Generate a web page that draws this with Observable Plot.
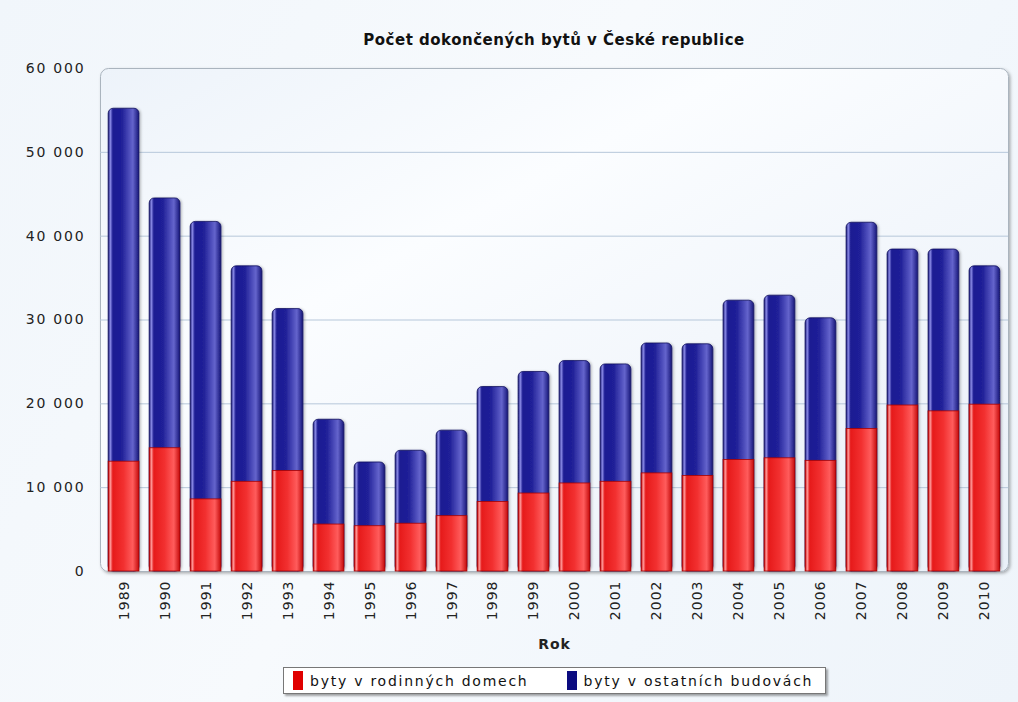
<!DOCTYPE html>
<html><head><meta charset="utf-8">
<script src="https://cdn.jsdelivr.net/npm/d3@7"></script>
<script src="https://cdn.jsdelivr.net/npm/@observablehq/plot@0.6"></script>
<style>
html,body{margin:0;padding:0;width:1018px;height:702px;overflow:hidden;}
body{background:linear-gradient(120deg,#f1f6fb 0%,#f7fafd 45%,#f2f7fc 70%,#eef4fa 100%);font-family:"DejaVu Sans",Verdana,sans-serif;position:relative;}
#title{position:absolute;left:100px;width:908px;top:30px;height:20px;line-height:20px;text-align:center;font-weight:bold;font-size:15px;color:#111;letter-spacing:0.5px;}
#chart{position:absolute;left:0;top:56px;}
#chart svg text{letter-spacing:1px;}
#chart svg g[aria-label="y-axis tick label"] text{letter-spacing:1.8px;}
#legend{position:absolute;left:283px;top:667px;width:541px;height:25px;background:#fff;border:1px solid #777;box-shadow:2px 2px 2px rgba(0,0,0,0.35);display:flex;align-items:center;font-size:14px;color:#111;letter-spacing:1.75px;}
#legend .sw{display:inline-block;width:10px;height:19px;margin:0 7px 0 0;}
#legend .sw0{margin-left:9px;}
#legend .lab0{margin-right:38px;}
</style>
</head><body>
<div id="title"></div>
<div id="chart"></div>
<div id="legend"></div>
<script>
const titleText = "Počet dokončených bytů v České republice";
const xLabel = "Rok";
const years = ["1989","1990","1991","1992","1993","1994","1995","1996","1997","1998","1999","2000","2001","2002","2003","2004","2005","2006","2007","2008","2009","2010"];
const rodinne = [13100,14700,8600,10700,12000,5600,5400,5700,6600,8300,9300,10500,10700,11700,11400,13300,13500,13200,17000,19800,19100,19900];
const ostatni = [42100,29800,33100,25700,19300,12500,7600,8700,10200,13700,14500,14600,14000,15500,15700,19000,19400,17000,24600,18600,19300,16500];
const seriesNames = ["byty v rodinných domech","byty v ostatních budovách"];
const seriesColors = ["#e00000","#0b0b80"];
const yTicks = [0,10000,20000,30000,40000,50000,60000];
const gridTicks = [10000,20000,30000,40000,50000];

const data = years.map((y,i)=>({year:y, rod:rodinne[i], ost:ostatni[i], total:rodinne[i]+ostatni[i]}));
const fmt = d => d3.format(",")(d).replace(/,/g," ");

document.getElementById("title").textContent = titleText;

const plot = Plot.plot({
  width:1018, height:600,
  marginTop:12, marginBottom:85, marginLeft:100, marginRight:10,
  style:{fontFamily:"DejaVu Sans, Verdana, sans-serif", fontSize:"14px", color:"#222", background:"transparent", overflow:"visible"},
  x:{domain:years, paddingInner:0.25, paddingOuter:0.2, round:false},
  y:{domain:[0,60000]},
  marks:[
    Plot.frame({fill:"url(#bgGrad)", stroke:"#aab4be", rx:8}),
    Plot.ruleY(gridTicks, {stroke:"#b6c7da", strokeWidth:1}),
    Plot.barY(data, {x:"year", y1:0, y2:"total", fill:"url(#gBlue)", stroke:"#12125e", strokeWidth:0.8, rx:5}),
    Plot.barY(data, {x:"year", y1:0, y2:"rod", fill:"url(#gRed)", stroke:"#a80000", strokeWidth:0.8}),
    Plot.axisY({ticks:yTicks, tickSize:0, tickPadding:15, tickFormat:fmt, label:null}),
    Plot.axisX({tickRotate:-90, tickSize:0, tickPadding:9, label:null}),
    Plot.text([xLabel], {frameAnchor:"bottom", dy:77, fontWeight:"bold", fontSize:14})
  ]
});

const defs = `<defs>
<linearGradient id="bgGrad" x1="0" y1="0" x2="1" y2="1">
 <stop offset="0" stop-color="#edf3fa"/><stop offset="0.35" stop-color="#fbfdff"/>
 <stop offset="0.6" stop-color="#f3f7fc"/><stop offset="1" stop-color="#e9f0f8"/>
</linearGradient>
<linearGradient id="gRed" x1="0" y1="0" x2="1" y2="0">
 <stop offset="0" stop-color="#c40000"/><stop offset="0.07" stop-color="#ff9a9a"/>
 <stop offset="0.15" stop-color="#e61a1a"/><stop offset="0.5" stop-color="#f23030"/>
 <stop offset="0.8" stop-color="#ff5c5c"/><stop offset="1" stop-color="#c40a0a"/>
</linearGradient>
<linearGradient id="gBlue" x1="0" y1="0" x2="1" y2="0">
 <stop offset="0" stop-color="#121270"/><stop offset="0.07" stop-color="#8a8ae6"/>
 <stop offset="0.15" stop-color="#1c1c92"/><stop offset="0.45" stop-color="#202098"/>
 <stop offset="0.8" stop-color="#6464cc"/><stop offset="1" stop-color="#161678"/>
</linearGradient>
<filter id="shadow" x="-5%" y="-5%" width="110%" height="110%">
 <feDropShadow dx="1.5" dy="1.5" stdDeviation="1.5" flood-color="#000" flood-opacity="0.3"/>
</filter>
<filter id="bshadow" x="-20%" y="-5%" width="140%" height="110%">
 <feDropShadow dx="1.5" dy="0.5" stdDeviation="1" flood-color="#000" flood-opacity="0.25"/>
</filter>
</defs>`;
plot.insertAdjacentHTML("afterbegin", defs);
const fr = plot.querySelector('[aria-label="frame"]');
if (fr) fr.setAttribute("filter","url(#shadow)");
plot.querySelectorAll('[aria-label="bar"]').forEach((g,i)=>{ if(i===0) g.setAttribute("filter","url(#bshadow)"); });
document.getElementById("chart").appendChild(plot);

const leg = document.getElementById("legend");
seriesNames.forEach((n,i)=>{
  const sw = document.createElement("span"); sw.className="sw sw"+i; sw.style.background=seriesColors[i];
  const lb = document.createElement("span"); lb.className="lab lab"+i; lb.textContent=n;
  leg.appendChild(sw); leg.appendChild(lb);
});
</script>
</body></html>
